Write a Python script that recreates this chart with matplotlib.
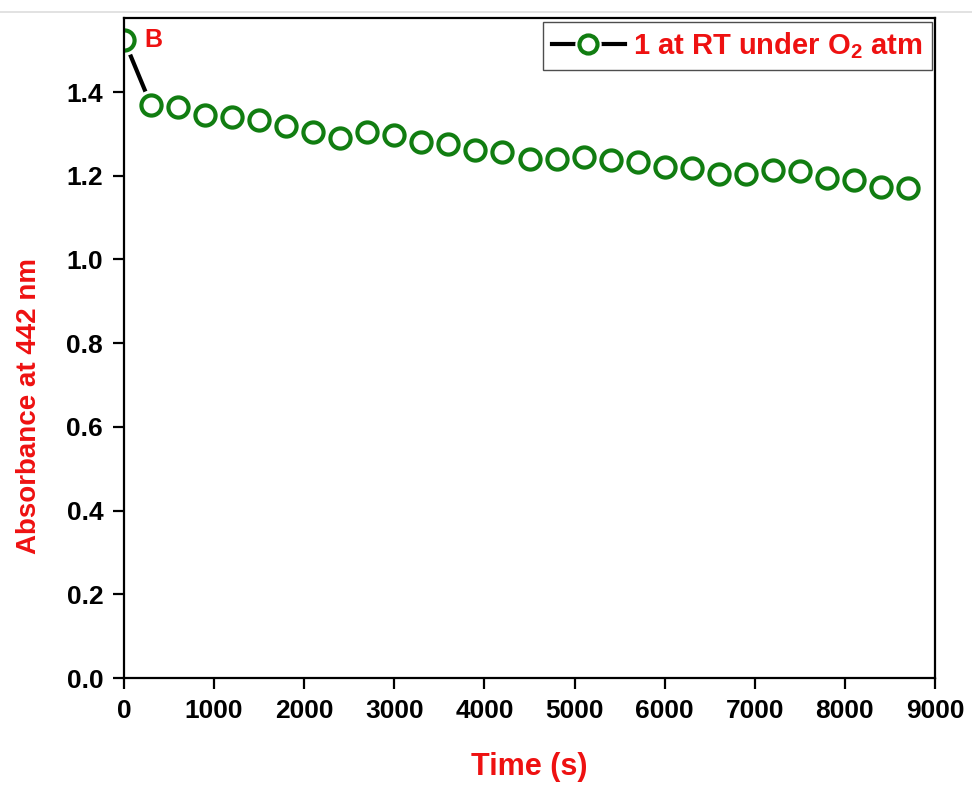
import matplotlib as mpl

mpl.use('Agg')
import matplotlib.pyplot as plt
from matplotlib.lines import Line2D

plt.rcParams['font.family'] = ['Liberation Sans', 'DejaVu Sans']
plt.rcParams['mathtext.fontset'] = 'custom'
plt.rcParams['mathtext.bf'] = 'Liberation Sans:bold'
plt.rcParams['mathtext.rm'] = 'Liberation Sans:bold'

# absorbance at 442 nm vs time
time_s = [0, 300, 600, 900, 1200, 1500, 1800, 2100, 2400, 2700,
          3000, 3300, 3600, 3900, 4200, 4500, 4800, 5100, 5400, 5700,
          6000, 6300, 6600, 6900, 7200, 7500, 7800, 8100, 8400, 8700]
absorb = [1.525, 1.369, 1.365, 1.345, 1.340, 1.333, 1.320, 1.305, 1.290, 1.305,
          1.297, 1.280, 1.277, 1.262, 1.257, 1.240, 1.240, 1.245, 1.238, 1.232,
          1.222, 1.218, 1.205, 1.205, 1.215, 1.212, 1.195, 1.190, 1.173, 1.170]
xticks = [0, 1000, 2000, 3000, 4000, 5000, 6000, 7000, 8000, 9000]
yticks = [0.0, 0.2, 0.4, 0.6, 0.8, 1.0, 1.2, 1.4]
series_label = r'1 at RT under O$_\mathregular{2}$ atm'

green = '#117d11'
red = '#ee1111'

fig = plt.figure(figsize=(9.72, 7.85), dpi=100)
ax = fig.add_axes([124 / 972, 1 - 678 / 785, (935 - 124) / 972, (678 - 18) / 785])
fig.add_artist(Line2D([0, 1], [1 - 12 / 785, 1 - 12 / 785], color='#dddddd', lw=1.2))

# line, then a white halo around each marker (Origin-style gap), then the rings
ax.plot(time_s, absorb, '-', color='black', lw=3.0, zorder=2)
ax.plot(time_s, absorb, 'o', ls='none', ms=22, mfc='white', mec='none', zorder=3)
ax.plot(time_s, absorb, 'o', ls='none', ms=14.5, mfc='white', mec=green,
        mew=3.0, zorder=4)
ax.set_xlim(0, 9000)
ax.set_ylim(0, 1.577)
ax.set_xticks(xticks)
ax.set_yticks(yticks)
ax.set_yticklabels(['%.1f' % v for v in yticks])
for s in ax.spines.values():
    s.set_linewidth(1.6)
    s.set_zorder(5)
ax.tick_params(direction='out', length=8, width=1.6, labelsize=19, pad=7)
for lab in ax.get_xticklabels() + ax.get_yticklabels():
    lab.set_fontweight('bold')

ax.set_xlabel('Time (s)', color=red, fontsize=22, fontweight='bold')
ax.xaxis.set_label_coords(0.5, -0.112)
ax.set_ylabel('Absorbance at 442 nm', color=red, fontsize=20, fontweight='bold')
ax.yaxis.set_label_coords(-0.101, 0.412)

ax.text(230, 1.525, 'B', color=red, fontsize=18, fontweight='bold', va='center',
        zorder=6)

h_line = Line2D([], [], color='black', lw=3)
h_halo = Line2D([], [], ls='none', marker='o', ms=19, mfc='white', mec='none')
h_ring = Line2D([], [], ls='none', marker='o', ms=13, mfc='white', mec=green, mew=3.0)
leg = ax.legend([(h_line, h_halo, h_ring)], [series_label], loc='upper right',
                frameon=True, fancybox=False, edgecolor='#222222', borderpad=0.3,
                handlelength=2.5, handletextpad=0.3, borderaxespad=0.12,
                prop={'size': 21, 'weight': 'bold'})
leg.get_frame().set_linewidth(1.0)
for t in leg.get_texts():
    t.set_color(red)

fig.savefig('out.png', dpi=100)
